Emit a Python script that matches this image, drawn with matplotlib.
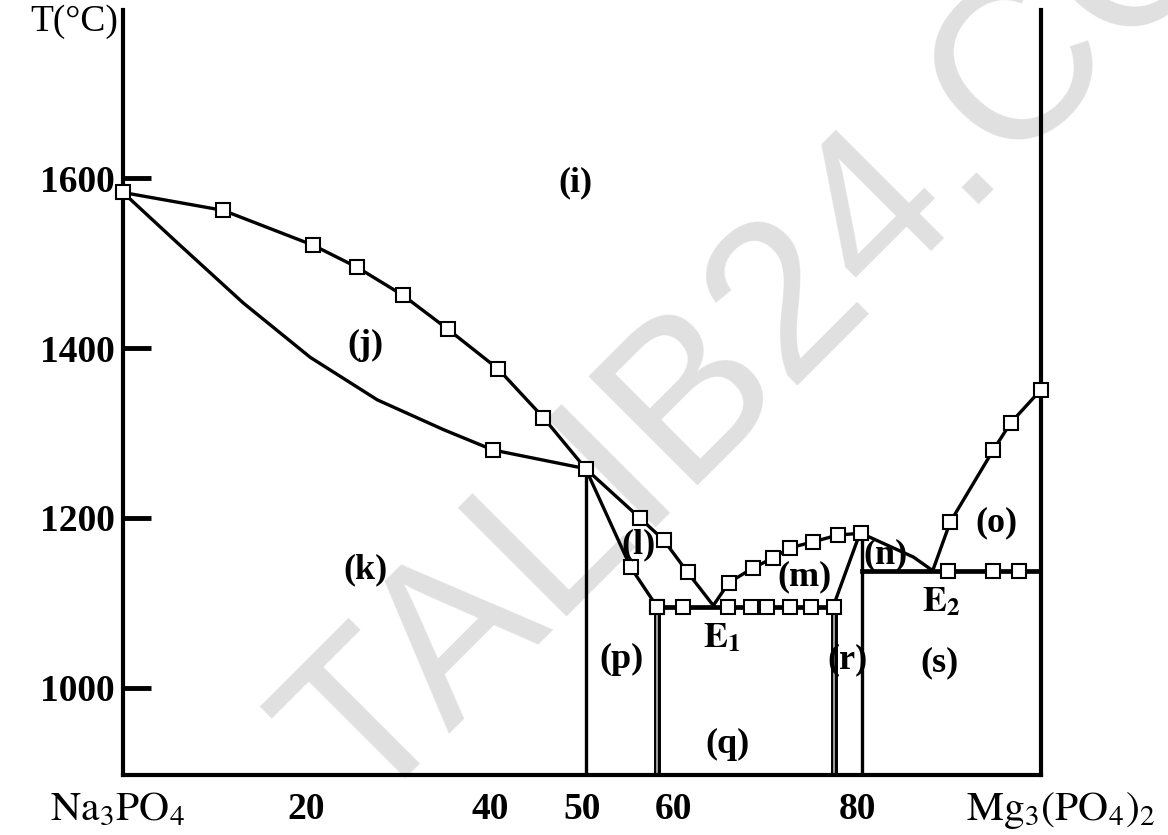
import matplotlib
matplotlib.use("Agg")
import matplotlib.pyplot as plt

plt.rcParams['font.family'] = ['Liberation Serif', 'DejaVu Serif']
plt.rcParams['mathtext.fontset'] = 'stix'

# liquidus Na3PO4 side (squares), mol % Mg3(PO4)2 vs T
liq_left_x = [0, 10.9, 20.7, 25.5, 30.5, 35.4, 40.9, 45.8, 50.4]
liq_left_y = [1583, 1562, 1521, 1495, 1462, 1422, 1375, 1318, 1258]
# solidus curve below (j)
sol_left_x = [0, 5.9, 13.1, 20.4, 27.7, 34.9, 40.3, 50.4]
sol_left_y = [1583, 1524, 1453, 1389, 1339, 1304, 1280, 1258]
sol_pts_x = [40.3]
sol_pts_y = [1280]
# region (l)
l_upper_x = [50.4, 56.3, 58.9, 61.5, 64.3]
l_upper_y = [1258, 1200, 1174, 1136, 1097]
l_lower_x = [50.4, 55.3, 58.2]
l_lower_y = [1258, 1142, 1095]
# eutectic E1 line
e1_x = [58.2, 61.0, 65.9, 68.4, 70.2, 72.7, 74.9, 77.4]
e1_t = 1095
e1_point = (64.3, 1097)
# region (m)
m_upper_x = [66.0, 68.6, 70.8, 72.7, 75.2, 77.9, 80.4]
m_upper_y = [1124, 1141, 1153, 1165, 1172, 1180, 1182]
m_right_x = [77.4, 80.0]
m_right_y = [1097, 1174]
# region (n)
n_x = [80.4, 86.1]
n_y = [1182, 1154]
# eutectic E2 line
e2_point = (88.2, 1138)
e2_x = [89.9, 94.8, 97.6]
# liquidus Mg3(PO4)2 side
liq_right_x = [90.1, 94.8, 96.7, 100]
liq_right_y = [1195, 1280, 1312, 1351]
# vertical phase boundaries
vline_x = [50.4, 58.2, 77.4, 80.5]
vline_top = [1258, 1095, 1097, 1182]
vline_double = [False, True, True, False]

region_labels = ['(i)', '(j)', '(k)', '(l)', '(m)', '(n)', '(o)',
                 '(p)', '(q)', '(r)', '(s)']
region_x = [49.3, 26.4, 26.4, 56.1, 74.2, 83.1, 95.1, 54.3, 65.9, 78.9, 88.9]
region_y = [1594, 1403, 1139, 1168, 1131, 1157, 1194, 1033, 933, 1033, 1029]

x_ticks = [20, 40, 50, 60, 80]
x_minor = [20, 40, 60]
y_ticks = [1000, 1200, 1400, 1600]

ymin, ymax = 897.6, 1797.6

fig = plt.figure(figsize=(11.68, 8.35), dpi=100)
ax = fig.add_axes([0.1053, 0.0719, 0.786, 0.916])

# faint watermark of the scan
fig.text(0.709, 0.678, 'TALIB24.COM', fontsize=160, family='Liberation Sans',
         color='#e0e0e0', rotation=45, rotation_mode='anchor',
         ha='center', va='center', zorder=-5)
ax.patch.set_alpha(0)

lw = 2.4
mk = dict(marker='s', markersize=10, mfc='white', mec='black', mew=1.5,
          linestyle='none', zorder=4, clip_on=False)

ax.plot(liq_left_x, liq_left_y, color='black', lw=lw, zorder=3)
ax.plot(liq_left_x, liq_left_y, **mk)
ax.plot(sol_left_x, sol_left_y, color='black', lw=lw, zorder=3)
ax.plot(sol_pts_x, sol_pts_y, **mk)

ax.plot(l_upper_x, l_upper_y, color='black', lw=lw, zorder=3)
ax.plot(l_upper_x[1:-1], l_upper_y[1:-1], **mk)
ax.plot(l_lower_x, l_lower_y, color='black', lw=lw, zorder=3)
ax.plot(l_lower_x[1:], l_lower_y[1:], **mk)

ax.plot([e1_x[0], e1_x[-1]], [e1_t, e1_t], color='black', lw=lw + 1, zorder=3)
ax.plot(e1_x, [e1_t] * len(e1_x), **mk)

ax.plot([e1_point[0]] + m_upper_x, [e1_point[1]] + m_upper_y,
        color='black', lw=lw, zorder=3)
ax.plot(m_upper_x, m_upper_y, **mk)
ax.plot(m_right_x, m_right_y, color='black', lw=lw, zorder=3)

ax.plot(n_x + [e2_point[0]], n_y + [e2_point[1]], color='black', lw=lw, zorder=3)

ax.plot([vline_x[-1], 100], [e2_point[1], e2_point[1]], color='black',
        lw=lw + 1, zorder=3)
ax.plot(e2_x, [e2_point[1]] * len(e2_x), **mk)

ax.plot([e2_point[0]] + liq_right_x, [e2_point[1]] + liq_right_y,
        color='black', lw=lw, zorder=3)
ax.plot(liq_right_x, liq_right_y, **mk)

for x, top, dbl in zip(vline_x, vline_top, vline_double):
    if dbl:
        ax.plot([x, x], [ymin, top], color='black', lw=5, zorder=2)
        ax.plot([x, x], [ymin, top - 8], color='#bbbbbb', lw=1.2, zorder=2)
    else:
        ax.plot([x, x], [ymin, top], color='black', lw=lw, zorder=2)

for lab, x, y in zip(region_labels, region_x, region_y):
    ax.text(x, y, lab, fontsize=26, fontweight='bold', ha='center',
            va='center', zorder=5)
ax.text(e1_point[0] + 0.9, 1058, r'$\mathbf{E}_\mathbf{1}$', fontsize=26,
        ha='center', va='center', zorder=5)
ax.text(e2_point[0] + 0.9, 1100, r'$\mathbf{E}_\mathbf{2}$', fontsize=26,
        ha='center', va='center', zorder=5)

# axes
ax.set_xlim(0, 100)
ax.set_ylim(ymin, ymax)
for side in ['left', 'right', 'bottom']:
    ax.spines[side].set_linewidth(3)
ax.spines['top'].set_visible(False)

ax.set_yticks(y_ticks)
ax.set_yticklabels([str(v) for v in y_ticks], fontsize=27, fontweight='bold')
ax.tick_params(axis='y', direction='in', length=20, width=3.5, pad=6)

ax.set_xticks(x_ticks)
ax.set_xticklabels([str(v) for v in x_ticks], fontsize=27, fontweight='bold')
ax.tick_params(axis='x', which='major', length=0, pad=12)
ax.set_xticks(x_minor, minor=True)
ax.tick_params(axis='x', which='minor', direction='in', length=12, width=2)

xt = ax.get_xaxis_transform()
ax.text(-0.6, -0.0588, r'$\mathrm{Na_3PO_4}$', transform=xt, fontsize=30,
        ha='center', va='baseline', clip_on=False)
ax.text(102.1, -0.0588, r'$\mathrm{Mg_3(PO_4)_2}$', transform=xt, fontsize=30,
        ha='center', va='baseline', clip_on=False)
ax.text(-0.005, 0.985, 'T(°C)', transform=ax.transAxes, fontsize=27,
        ha='right', va='center', clip_on=False)

fig.savefig('out.png', dpi=100)
